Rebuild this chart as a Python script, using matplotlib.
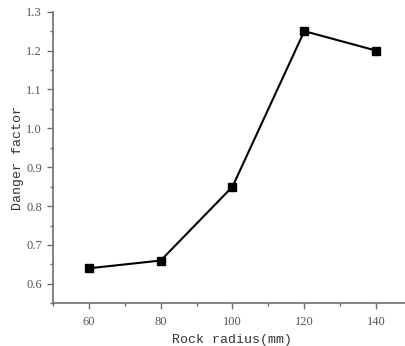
import matplotlib
matplotlib.use("Agg")
import matplotlib.pyplot as plt
from matplotlib.ticker import MultipleLocator

# data
radius = [60, 80, 100, 120, 140]
danger = [0.64, 0.66, 0.85, 1.25, 1.20]

fig = plt.figure(figsize=(4.06, 3.46), dpi=100)
ax = fig.add_axes([53 / 406, 42.7 / 346, 359 / 406, 291.6 / 346])

ax.plot(radius, danger, color="black", lw=1.5, marker="s", ms=5.5)

ax.set_xlim(50, 150)
ax.set_ylim(0.55, 1.3)
ax.xaxis.set_major_locator(MultipleLocator(20))
ax.xaxis.set_minor_locator(MultipleLocator(10))
ax.yaxis.set_major_locator(MultipleLocator(0.1))
ax.yaxis.set_minor_locator(MultipleLocator(0.05))
ax.yaxis.set_major_formatter(plt.FormatStrFormatter("%.1f"))

axis_col = "#6e6e6e"
for side in ["top", "right"]:
    ax.spines[side].set_visible(False)
for side in ["left", "bottom"]:
    ax.spines[side].set_color(axis_col)
    ax.spines[side].set_linewidth(1.2)

ax.tick_params(which="major", direction="out", length=4, width=1, color=axis_col,
               labelsize=9, labelcolor="#555555")
ax.tick_params(axis="x", which="major", pad=5)
ax.tick_params(axis="y", which="major", pad=4)
ax.tick_params(which="minor", direction="out", length=2, width=1, color=axis_col)
for lab in ax.get_xticklabels() + ax.get_yticklabels():
    lab.set_family("Liberation Serif")

ax.set_xlabel("Rock radius(mm)", family="Liberation Mono", fontsize=9.5, color="#333333", labelpad=4.5)
ax.set_ylabel("Danger factor", family="Liberation Mono", fontsize=9.5, color="#333333", labelpad=1.5)

fig.savefig("out.png", dpi=100)
